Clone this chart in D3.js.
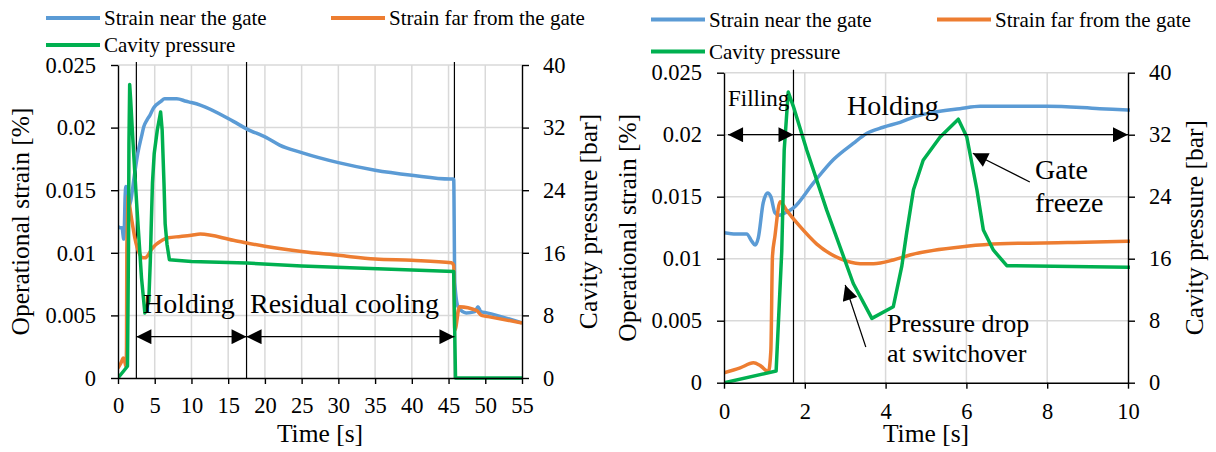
<!DOCTYPE html>
<html>
<head>
<meta charset="utf-8">
<script src="https://cdn.jsdelivr.net/npm/d3@7"></script>
</head>
<body style="margin:0; font-family: 'Liberation Serif';">
<div id="chart"></div>
<script>
// time [s], operational strain [%]
var nearGate = [[0,0.0121],[0.3,0.0120],[0.56,0.0120],[0.69,0.0114],[0.77,0.0111],[0.85,0.0117],
  [0.97,0.0145],[1.08,0.0153],[1.16,0.0150],[1.26,0.0137],[1.35,0.0135],[1.51,0.0137],[1.72,0.0141],
  [2.21,0.0161],[2.71,0.0180],[3.2,0.0193],[3.53,0.0201],[3.94,0.0206],[4.36,0.0210],[4.77,0.0215],
  [5.18,0.0218],[5.84,0.0221],[6.34,0.0223],[8.0,0.0223],[9.3,0.0221],[10,0.0220],[11.2,0.0218],
  [15.7,0.0205],[17.5,0.0199],[20.2,0.0192],[22,0.0186],[25,0.0180],[30,0.0172],[35,0.0166],
  [40,0.0162],[45.2,0.0159],[45.7,0.0159],[45.85,0.0076],[46.3,0.0057],[47.4,0.0052],[48.6,0.0053],
  [49,0.0057],[49.4,0.0053],[50.2,0.0052],[55,0.0044]];

var farGate = [[0,0.0008],[0.4,0.0012],[0.73,0.0016],[0.89,0.0014],[1.1,0.0009],[1.16,0.0026],
  [1.2,0.0102],[1.26,0.0118],[1.39,0.0146],[1.55,0.0139],[1.88,0.0126],[2.29,0.0112],[2.87,0.0100],
  [3.37,0.0096],[3.7,0.0096],[4.19,0.0099],[4.6,0.0103],[6.0,0.0110],[6.83,0.0112],[8.5,0.0113],
  [10,0.0114],[11.2,0.0115],[15.7,0.0110],[20.2,0.0105],[25,0.0101],[30,0.0098],[35,0.0095],
  [40,0.0094],[45.4,0.0092],[45.7,0.0090],[45.85,0.0038],[46.5,0.0057],[48.8,0.0054],[49.5,0.0050],
  [50.4,0.0049],[55,0.0044]];

// time [s], cavity pressure [bar]
var cavityPressure = [[0,0],[1.29,1.5],[1.43,17],[1.49,30],[1.59,37.5],[1.72,35.6],[2.05,30],
  [2.54,22.3],[3.2,12.8],[3.66,8.3],[4.19,9.8],[4.4,15],[4.52,19.3],[4.69,24.9],[4.93,28.7],
  [5.35,31.7],[5.8,34.0],[6.01,31.7],[6.26,24.9],[6.42,19.7],[6.67,17.1],[7.0,15.1],[10,14.9],
  [17.5,14.7],[25,14.3],[45.7,13.6],[45.95,0],[55,0]];

var strainTicks = [0, 0.005, 0.01, 0.015, 0.02, 0.025];
var pressureTicks = [0, 8, 16, 24, 32, 40];
var timeTicksFull = [0, 5, 10, 15, 20, 25, 30, 35, 40, 45, 50, 55];
var timeTicksZoom = [0, 2, 4, 6, 8, 10];
var phaseTimesFull = [2.5, 17.5, 45.8];
var phaseTimesZoom = [1.72];

var seriesNames = ["Strain near the gate", "Strain far from the gate", "Cavity pressure"];
var colors = ["#5b9bd5", "#ed7d31", "#00b050"];

var FONT = "Liberation Serif";
var width = 1216, height = 452;
var svg = d3.select("#chart").append("svg")
  .attr("width", width).attr("height", height)
  .style("display", "block");

var defs = svg.append("defs");
defs.append("marker")
  .attr("id", "head")
  .attr("viewBox", "0 0 10 10")
  .attr("refX", 10).attr("refY", 5)
  .attr("markerUnits", "userSpaceOnUse")
  .attr("markerWidth", 16).attr("markerHeight", 15)
  .attr("orient", "auto-start-reverse")
  .append("path").attr("d", "M0,0L10,5L0,10Z").attr("fill", "#000");

function label(g, x, y, size, txt) {
  return g.append("text").attr("x", x).attr("y", y)
    .attr("font-family", FONT)
    .attr("font-size", size).attr("fill", "#000").text(txt);
}

function drawPanel(p) {
  var x = d3.scaleLinear().domain([0, p.tMax]).range([p.left, p.right]);
  var yS = d3.scaleLinear().domain([0, 0.025]).range([p.bottom, p.top]);
  var yP = d3.scaleLinear().domain([0, 40]).range([p.bottom, p.top]);
  var g = svg.append("g");

  // grid
  g.selectAll(".hg").data(strainTicks.slice(1)).enter().append("line")
    .attr("x1", p.left).attr("x2", p.right)
    .attr("y1", d => yS(d)).attr("y2", d => yS(d))
    .attr("stroke", "#d9d9d9").attr("stroke-width", 1.5);
  g.selectAll(".vg").data(p.tTicks.slice(1, -1)).enter().append("line")
    .attr("x1", d => x(d)).attr("x2", d => x(d))
    .attr("y1", p.top).attr("y2", p.bottom)
    .attr("stroke", "#d9d9d9").attr("stroke-width", 1.5);

  // phase lines
  g.selectAll(".ph").data(p.phases).enter().append("line")
    .attr("x1", d => x(d)).attr("x2", d => x(d))
    .attr("y1", p.top - 3).attr("y2", p.bottom)
    .attr("stroke", "#000").attr("stroke-width", 1.2);

  // curves
  var clipId = "clip" + p.id;
  defs.append("clipPath").attr("id", clipId).append("rect")
    .attr("x", p.left).attr("y", p.top - 10)
    .attr("width", p.right - p.left + 2).attr("height", p.bottom - p.top + 12);
  var cg = g.append("g").attr("clip-path", "url(#" + clipId + ")");
  var lineS = d3.line().x(d => x(d[0])).y(d => yS(d[1])).curve(d3.curveMonotoneX);
  var lineP = d3.line().x(d => x(d[0])).y(d => yP(d[1]));
  cg.append("path").attr("d", lineS(nearGate)).attr("fill", "none")
    .attr("stroke", colors[0]).attr("stroke-width", 3.5).attr("stroke-linejoin", "round");
  cg.append("path").attr("d", lineS(farGate)).attr("fill", "none")
    .attr("stroke", colors[1]).attr("stroke-width", 3.5).attr("stroke-linejoin", "round");
  cg.append("path").attr("d", lineP(cavityPressure)).attr("fill", "none")
    .attr("stroke", colors[2]).attr("stroke-width", 3.5).attr("stroke-linejoin", "round");

  // axes
  var ax = g.append("g").attr("transform", "translate(0," + p.bottom + ")")
    .call(d3.axisBottom(x).tickValues(p.tTicks).tickSize(6).tickSizeOuter(0).tickPadding(p.xPad));
  var al = g.append("g").attr("transform", "translate(" + p.left + ",0)")
    .call(d3.axisLeft(yS).tickValues(strainTicks).tickFormat(d => String(d)).tickSize(7).tickSizeOuter(0).tickPadding(15));
  var ar = g.append("g").attr("transform", "translate(" + p.right + ",0)")
    .call(d3.axisRight(yP).tickValues(pressureTicks).tickSize(7).tickSizeOuter(0).tickPadding(14));
  [ax, al, ar].forEach(function (a) {
    a.attr("font-family", FONT).attr("font-size", 22.5);
    a.selectAll("path, line").attr("stroke", "#000").attr("stroke-width", 1.4);
    a.selectAll("text").attr("font-family", FONT).attr("font-size", 22.5);
  });

  // axis titles
  label(g, (p.left + p.right) / 2, 442, 25.5, "Time [s]").attr("text-anchor", "middle");
  label(g, 0, 0, 25.5, "Operational strain [%]")
    .attr("transform", "translate(" + p.ylTitle + "," + (p.top + p.bottom) / 2 + ") rotate(-90)")
    .attr("text-anchor", "middle");
  label(g, 0, 0, 25.5, "Cavity pressure [bar]")
    .attr("transform", "translate(" + p.yrTitle + "," + (p.top + p.bottom) / 2 + ") rotate(-90)")
    .attr("text-anchor", "middle");

  // legend
  var lg = g.append("g");
  var items = [[p.leg[0], p.leg[2]], [p.leg[1], p.leg[2]], [p.leg[0], p.leg[3]]];
  items.forEach(function (it, i) {
    lg.append("line").attr("x1", it[0]).attr("x2", it[0] + 54)
      .attr("y1", it[1]).attr("y2", it[1])
      .attr("stroke", colors[i]).attr("stroke-width", 4);
    label(lg, it[0] + 58, it[1] + 7, 21, seriesNames[i]);
  });

  return { x: x, yS: yS, yP: yP, g: g };
}

var left = drawPanel({ id: "L", left: 118, right: 522, top: 65, bottom: 378, tMax: 55,
  tTicks: timeTicksFull, phases: phaseTimesFull, xPad: 13, ylTitle: 29, yrTitle: 597,
  leg: [46, 331, 18, 45] });
var right = drawPanel({ id: "R", left: 724, right: 1128, top: 72.7, bottom: 382.7, tMax: 10,
  tTicks: timeTicksZoom, phases: phaseTimesZoom, xPad: 14, ylTitle: 636, yrTitle: 1203,
  leg: [651, 937, 19.5, 51.5] });

// arrows with heads
function arrow(g, x1, y1, x2, y2, both) {
  var l = g.append("line").attr("x1", x1).attr("y1", y1).attr("x2", x2).attr("y2", y2)
    .attr("stroke", "#000").attr("stroke-width", 1.2).attr("marker-end", "url(#head)");
  if (both) l.attr("marker-start", "url(#head)");
}

// left annotations
var ay = left.yS(0.0033);
arrow(left.g, left.x(2.5), ay, left.x(17.5), ay, true);
arrow(left.g, left.x(17.5), ay, left.x(45.8), ay, true);
label(left.g, 143, 313, 28, "Holding");
label(left.g, 250, 313, 28, "Residual cooling");

// right annotations
var by = right.yS(0.02);
arrow(right.g, right.x(0.1), by, right.x(1.72), by, true);
arrow(right.g, right.x(1.72), by, right.x(10), by, false);
label(right.g, 728, 106, 23, "Filling");
label(right.g, 847, 115, 28, "Holding");
arrow(right.g, right.x(7.57), right.yP(25.9), right.x(6.16), right.yP(29.6), false);
label(right.g, 1035, 179, 28, "Gate");
label(right.g, 1035, 212, 28, "freeze");
arrow(right.g, right.x(3.51), right.yP(4.6), right.x(3.0), right.yP(12.6), false);
label(right.g, 887, 332, 26, "Pressure drop");
label(right.g, 887, 362, 26, "at switchover");

// make sure the serif face is used by the page as well
d3.select("body").append("div")
  .style("position", "absolute").style("left", "0px").style("top", "0px")
  .style("opacity", 0).style("font-family", FONT).style("font-size", "1px")
  .html("&nbsp;");
</script>
</body>
</html>
